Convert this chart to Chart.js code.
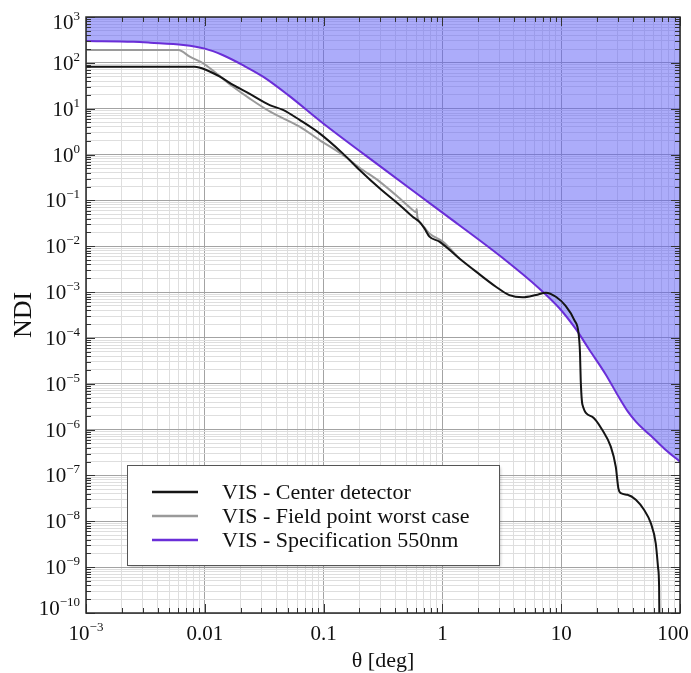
<!DOCTYPE html>
<html>
<head>
<meta charset="utf-8">
<script src="https://cdn.jsdelivr.net/npm/chart.js@4.4.0/dist/chart.umd.min.js"></script>
<style>
  html, body { margin: 0; padding: 0; background: #fff; }
  canvas { display: block; }
</style>
</head>
<body>
<canvas id="ndiChart" width="691" height="673"></canvas>
<script>
// values (theta in deg, NDI)
const centerTheta = [0.001, 0.00824, 0.0103, 0.0134, 0.0173, 0.0239, 0.0352, 0.0455, 0.0628, 0.0925,
  0.145, 0.201, 0.296, 0.436, 0.562, 0.641, 0.706, 0.778, 0.944, 1.39, 1.92, 2.82, 3.66, 4.73, 6.12,
  7.43, 9.02, 10.9, 12.9, 14.0, 14.4, 14.6, 15.1, 18.3, 22.2, 26.1, 28.8, 30.3, 31.8, 36.1, 42.5,
  49.8, 56.8, 62.5, 65.3, 66.7, 67.0];
const centerNdi = [82, 82, 70, 50, 33, 21, 12, 9.4, 5.7, 2.9,
  1.06, 0.46, 0.183, 0.079, 0.044, 0.034, 0.0245, 0.0162, 0.0126, 0.0054, 0.00279, 0.00131, 8.6e-4, 7.7e-4, 8.6e-4,
  9.7e-4, 7.9e-4, 5.0e-4, 2.45e-4, 1.26e-4, 4.6e-5, 1.2e-5, 3.5e-6, 1.9e-6, 9.8e-7, 4.3e-7, 1.55e-7, 5.2e-8, 4.1e-8, 3.8e-8, 2.95e-8,
  1.78e-8, 9.1e-9, 3.3e-9, 1.0e-9, 3.7e-10, 1e-10];

const fieldTheta = [0.001, 0.006, 0.00748, 0.00968, 0.0125, 0.0173, 0.0239, 0.0352, 0.0628, 0.0925,
  0.145, 0.201, 0.296, 0.436, 0.562, 0.600, 0.608, 0.614, 0.661, 0.778, 1.007, 1.39];
const fieldNdi = [190, 190, 136, 98, 59, 30, 16.6, 8.7, 4.06, 2.07,
  0.98, 0.516, 0.257, 0.111, 0.0617, 0.055, 0.0646, 0.0457, 0.0316, 0.019, 0.0126, 0.0054];

const specTheta = [0.001, 0.0025, 0.00347, 0.0066, 0.01, 0.0141, 0.0209, 0.0309, 0.0501, 0.1,
  0.316, 1, 3.16, 6.53, 9.62, 13.3, 17.2, 23.7, 30.7, 36.3, 42.7, 50.1, 58.6, 75.9, 100];
const specNdi = [300, 288, 275, 245, 204, 148, 89, 50, 20, 4.7,
  0.50, 0.054, 0.00575, 0.0012, 4.5e-4, 1.55e-4, 5.6e-5, 1.6e-5, 5.0e-6, 2.5e-6, 1.48e-6, 9.8e-7, 6.8e-7, 3.6e-7, 2.0e-7];

const seriesNames = ["VIS - Center detector", "VIS - Field point worst case", "VIS - Specification 550nm"];

const xTickValues = [0.001, 0.01, 0.1, 1, 10, 100];
const xTickLabels = ["10^−3", "0.01", "0.1", "1", "10", "100"];
const yTickValues = [1e3, 1e2, 1e1, 1e0, 1e-1, 1e-2, 1e-3, 1e-4, 1e-5, 1e-6, 1e-7, 1e-8, 1e-9, 1e-10];
const yTickLabels = ["10^3", "10^2", "10^1", "10^0", "10^−1", "10^−2", "10^−3", "10^−4", "10^−5",
  "10^−6", "10^−7", "10^−8", "10^−9", "10^−10"];

const SERIF = "'Liberation Serif', 'Times New Roman', serif";

function toPoints(xs, ys) {
  return xs.map((x, i) => ({ x: x, y: ys[i] }));
}

// decade lines plus 2..9 subdivisions, for grid and inner ticks
function logGrid(minExp, maxExp) {
  const vals = [];
  for (let e = minExp; e < maxExp; e++) {
    for (let m = 1; m < 10; m++) vals.push(m * Math.pow(10, e));
  }
  vals.push(Math.pow(10, maxExp));
  return vals;
}

function isDecade(v) {
  const l = Math.log10(v);
  return Math.abs(l - Math.round(l)) < 1e-6;
}

function gridColor(c) {
  if (!c.tick) return "#ddd";
  return isDecade(c.tick.value) ? "#a3a3a3" : "#dedede";
}

// "10^-3" style label: base + raised exponent
function drawPowerLabel(ctx, text, x, y, align) {
  const parts = text.split("^");
  ctx.font = "21px " + SERIF;
  const bw = ctx.measureText(parts[0]).width;
  let ew = 0;
  if (parts[1]) {
    ctx.font = "13px " + SERIF;
    ew = ctx.measureText(parts[1]).width;
  }
  const total = bw + ew;
  let left = x;
  if (align === "right") left = x - total;
  else if (align === "center") left = x - total / 2;
  ctx.textAlign = "left";
  ctx.textBaseline = "alphabetic";
  ctx.font = "21px " + SERIF;
  ctx.fillText(parts[0], left, y + 7);
  if (parts[1]) {
    ctx.font = "13px " + SERIF;
    ctx.fillText(parts[1], left + bw, y - 2);
  }
  return total;
}

const framePlugin = {
  id: "frame",
  afterDraw(chart) {
    const ctx = chart.ctx;
    const a = chart.chartArea;
    const xs = chart.scales.x, ys = chart.scales.y;
    ctx.save();

    // inner tick marks on all four sides
    ctx.strokeStyle = "#333";
    ctx.lineWidth = 1;
    ctx.beginPath();
    xs.ticks.forEach(t => {
      const px = Math.round(xs.getPixelForValue(t.value)) + 0.5;
      const len = isDecade(t.value) ? 9 : 5;
      ctx.moveTo(px, a.bottom); ctx.lineTo(px, a.bottom - len);
      ctx.moveTo(px, a.top); ctx.lineTo(px, a.top + len);
    });
    ys.ticks.forEach(t => {
      const py = Math.round(ys.getPixelForValue(t.value)) + 0.5;
      const len = isDecade(t.value) ? 9 : 5;
      ctx.moveTo(a.left, py); ctx.lineTo(a.left + len, py);
      ctx.moveTo(a.right, py); ctx.lineTo(a.right - len, py);
    });
    ctx.stroke();

    // plot frame
    ctx.strokeStyle = "#2a2a2a";
    ctx.lineWidth = 1.5;
    ctx.strokeRect(a.left, a.top, a.right - a.left, a.bottom - a.top);

    // tick labels
    ctx.fillStyle = "#111";
    yTickValues.forEach((v, i) => {
      let py = ys.getPixelForValue(v);
      py = Math.min(Math.max(py, a.top + 5), a.bottom - 5);
      drawPowerLabel(ctx, yTickLabels[i], 80, py, "right");
    });
    xTickValues.forEach((v, i) => {
      let px = xs.getPixelForValue(v);
      if (i === xTickValues.length - 1) px = Math.min(px, 673);
      drawPowerLabel(ctx, xTickLabels[i], px, 633, "center");
    });

    // axis titles
    ctx.font = "22px " + SERIF;
    ctx.textAlign = "center";
    ctx.textBaseline = "middle";
    ctx.fillText("θ [deg]", (a.left + a.right) / 2, 661);
    ctx.save();
    ctx.translate(24, (a.top + a.bottom) / 2);
    ctx.rotate(-Math.PI / 2);
    ctx.font = "26px " + SERIF;
    ctx.fillText("NDI", 0, 0);
    ctx.restore();

    // legend box
    const lx = 127.5, ly = 465.5, lw = 372, lh = 100;
    ctx.save();
    ctx.shadowColor = "rgba(0,0,0,0.25)";
    ctx.shadowBlur = 3;
    ctx.shadowOffsetX = 1;
    ctx.shadowOffsetY = 1;
    ctx.fillStyle = "#fff";
    ctx.fillRect(lx, ly, lw, lh);
    ctx.restore();
    ctx.strokeStyle = "#555";
    ctx.lineWidth = 1;
    ctx.strokeRect(lx, ly, lw, lh);

    const rowY = [492, 516, 540];
    chart.data.datasets.forEach((ds, i) => {
      ctx.strokeStyle = ds.borderColor;
      ctx.lineWidth = 2.5;
      ctx.beginPath();
      ctx.moveTo(152, rowY[i]);
      ctx.lineTo(198, rowY[i]);
      ctx.stroke();
      ctx.fillStyle = "#111";
      ctx.font = "22px " + SERIF;
      ctx.textAlign = "left";
      ctx.textBaseline = "middle";
      ctx.fillText(seriesNames[i], 222, rowY[i] + 1);
    });

    ctx.restore();
  }
};

const xGrid = logGrid(-3, 2);
const yGrid = logGrid(-10, 3);

new Chart(document.getElementById("ndiChart"), {
  type: "scatter",
  data: {
    datasets: [
      {
        label: seriesNames[0],
        data: toPoints(centerTheta, centerNdi),
        showLine: true,
        borderColor: "#151515",
        borderWidth: 2,
        pointRadius: 0,
        cubicInterpolationMode: "monotone",
        fill: false
      },
      {
        label: seriesNames[1],
        data: toPoints(fieldTheta, fieldNdi),
        showLine: true,
        borderColor: "#9a9a9a",
        borderWidth: 2,
        pointRadius: 0,
        cubicInterpolationMode: "monotone",
        fill: false
      },
      {
        label: seriesNames[2],
        data: toPoints(specTheta, specNdi),
        showLine: true,
        borderColor: "#6a2ed8",
        backgroundColor: "rgba(90,90,245,0.5)",
        borderWidth: 2,
        pointRadius: 0,
        cubicInterpolationMode: "monotone",
        fill: "end"
      }
    ]
  },
  options: {
    responsive: false,
    animation: false,
    devicePixelRatio: 1,
    layout: { padding: { top: 17, right: 11, left: 0, bottom: 0 } },
    plugins: {
      legend: { display: false },
      tooltip: { enabled: false }
    },
    scales: {
      x: {
        type: "logarithmic",
        min: 0.001,
        max: 100,
        ticks: { display: false },
        grid: { color: gridColor, drawTicks: false, lineWidth: 1 },
        border: { display: false },
        afterBuildTicks: s => { s.ticks = xGrid.map(v => ({ value: v })); },
        afterFit: s => { s.height = 60; }
      },
      y: {
        type: "logarithmic",
        min: 1e-10,
        max: 1e3,
        ticks: { display: false },
        grid: { color: gridColor, drawTicks: false, lineWidth: 1 },
        border: { display: false },
        afterBuildTicks: s => { s.ticks = yGrid.map(v => ({ value: v })); },
        afterFit: s => { s.width = 86; }
      }
    }
  },
  plugins: [framePlugin]
});
</script>
</body>
</html>
